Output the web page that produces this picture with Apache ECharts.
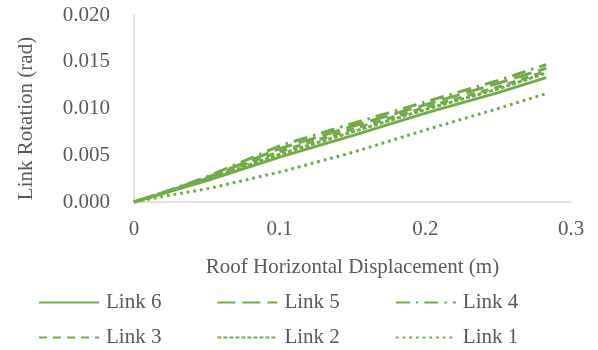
<!DOCTYPE html>
<html>
<head>
<meta charset="utf-8">
<script src="https://cdn.jsdelivr.net/npm/echarts@6/dist/echarts.min.js"></script>
<style>html,body{margin:0;padding:0;background:#fff}#c{width:598px;height:350px}</style>
</head>
<body>
<div id="c"></div>
<script>
var xValues = [0, 0.02, 0.05, 0.1, 0.15, 0.2, 0.25, 0.283];
var link6 = [0, 0.0009, 0.0023, 0.0048, 0.0071, 0.0095, 0.0117, 0.0133];
var link5 = [0, 0.0010, 0.0026, 0.0057, 0.0081, 0.0104, 0.0127, 0.0143];
var link4 = [0, 0.0010, 0.0027, 0.0060, 0.0084, 0.0107, 0.0130, 0.0147];
var link3 = [0, 0.0010, 0.0025, 0.0054, 0.0078, 0.0101, 0.0123, 0.0140];
var link2 = [0, 0.0010, 0.0024, 0.0051, 0.0075, 0.0099, 0.0121, 0.0138];
var link1 = [0, 0.0006, 0.0014, 0.0032, 0.0053, 0.0077, 0.0100, 0.0116];
var seriesNames = ['Link 6', 'Link 5', 'Link 4', 'Link 3', 'Link 2', 'Link 1'];
var xTitle = 'Roof Horizontal Displacement (m)';
var yTitle = 'Link Rotation (rad)';

var green = '#70AD47';
var font = 'Liberation Serif';
var styles = {
  'Link 6': {type: 'solid', cap: 'butt'},
  'Link 5': {type: [18, 7], cap: 'butt'},
  'Link 4': {type: [14, 6, 2.5, 6], cap: 'butt'},
  'Link 3': {type: [8, 6], cap: 'butt'},
  'Link 2': {type: [4, 2], cap: 'butt'},
  'Link 1': {type: [2.8, 3.9], cap: 'butt'}
};
var dataMap = {'Link 6': link6, 'Link 5': link5, 'Link 4': link4, 'Link 3': link3, 'Link 2': link2, 'Link 1': link1};

function pairs(ys) { return xValues.map(function (x, i) { return [x, ys[i]]; }); }

var series = seriesNames.map(function (n) {
  return {
    name: n, type: 'line', data: pairs(dataMap[n]), symbol: 'none', showSymbol: false, smooth: false,
    lineStyle: {color: green, width: 3, type: styles[n].type, cap: styles[n].cap},
    itemStyle: {color: green}, animation: false
  };
});

var legendCommon = {
  left: 38, padding: 0, itemWidth: 60, itemHeight: 14, itemGap: 55, orient: 'horizontal',
  textStyle: {fontFamily: font, fontSize: 21, color: '#595959', padding: [0, 0, 0, 2]},
  itemStyle: {opacity: 0}
};

var chart = echarts.init(document.getElementById('c'), null, {renderer: 'canvas'});
chart.setOption({
  backgroundColor: '#fff',
  animation: false,
  grid: {left: 134, right: 27, top: 15, bottom: 148, containLabel: false},
  xAxis: {
    type: 'value', min: 0, max: 0.3, interval: 0.1,
    name: xTitle, nameLocation: 'middle', nameGap: 55,
    nameTextStyle: {fontFamily: font, fontSize: 21, color: '#595959'},
    axisLine: {show: true, lineStyle: {color: '#D9D9D9', width: 1.5}},
    axisTick: {show: false},
    splitLine: {show: false},
    axisLabel: {fontFamily: font, fontSize: 21, color: '#595959', margin: 17,
      formatter: function (v) { return v === 0 ? '0' : v.toFixed(1); }}
  },
  yAxis: {
    type: 'value', min: 0, max: 0.02, interval: 0.005,
    name: yTitle, nameLocation: 'middle', nameGap: 97,
    nameTextStyle: {fontFamily: font, fontSize: 21, color: '#595959', padding: [0, 20, 0, 0]},
    axisLine: {show: true, lineStyle: {color: '#D9D9D9', width: 1.5}},
    axisTick: {show: false},
    splitLine: {show: false},
    axisLabel: {fontFamily: font, fontSize: 21, color: '#595959', margin: 24,
      formatter: function (v) { return v.toFixed(3); }}
  },
  legend: [
    Object.assign({}, legendCommon, {top: 292, data: ['Link 6', 'Link 5', 'Link 4']}),
    Object.assign({}, legendCommon, {top: 327, data: ['Link 3', 'Link 2', 'Link 1']})
  ],
  series: series
});
</script>
</body>
</html>
